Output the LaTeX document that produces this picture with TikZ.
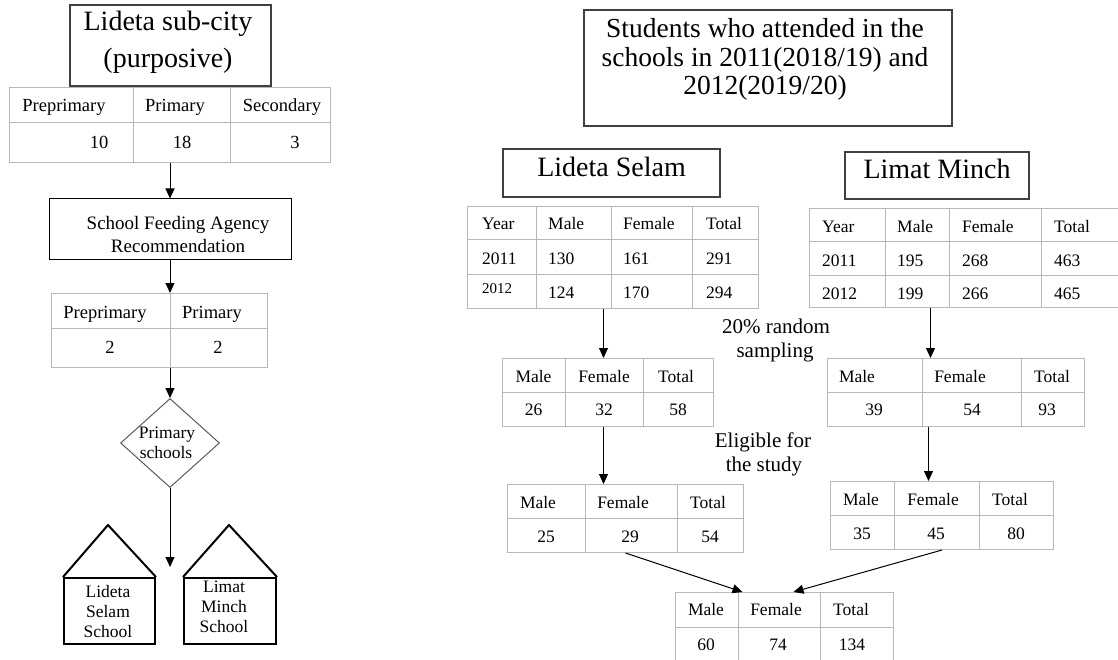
\documentclass[tikz,border=0pt]{standalone}
\usepackage{fontspec}
\setmainfont{Liberation Serif}
\usetikzlibrary{arrows.meta,shapes.geometric,calc}
\definecolor{gridgray}{HTML}{B8B8B8}
\definecolor{boxgray}{HTML}{404040}
\definecolor{diagray}{HTML}{5A5A5A}
\begin{document}
\begin{tikzpicture}[x=1pt,y=-1pt,
  tbl/.style={draw=gridgray,line width=1pt,inner sep=0pt,anchor=north west},
  gridln/.style={draw=gridgray,line width=1pt},
  celltxt/.style={font=\fontsize{17.5}{20}\selectfont,inner sep=0pt,anchor=base},
  lcelltxt/.style={celltxt,anchor=base west},
  smallcell/.style={font=\fontsize{15}{18}\selectfont,inner sep=0pt,anchor=base west},
  bigcell/.style={font=\fontsize{18.5}{21}\selectfont,inner sep=0pt,anchor=base},
  titlebox/.style={draw=boxgray,line width=1.1pt,inner sep=0pt},
  bigtxt/.style={font=\fontsize{28}{36}\selectfont,inner sep=0pt,anchor=base},
  midtxt/.style={font=\fontsize{27.5}{30}\selectfont,inner sep=0pt,anchor=base},
  sfatxt/.style={font=\fontsize{19}{23}\selectfont,inner sep=0pt,anchor=base},
  lbl/.style={font=\fontsize{21}{24}\selectfont,inner sep=0pt,anchor=base},
  arr/.style={draw=black,line width=1pt,-{Triangle[length=10pt,width=9pt]}},
  house/.style={draw=black,line width=2pt,inner sep=0pt},
  housetxt/.style={font=\fontsize{17.5}{20}\selectfont,inner sep=0pt,anchor=base},
]
\useasboundingbox (0,0) rectangle (1118,660);

% ---------------- left column ----------------
\node[titlebox,minimum width=201,minimum height=81] (lsc) at (170.5,45.5) {};
\node[bigtxt] (lsc1) at (168,31) {Lideta sub-city};
\node[bigtxt] (lsc2) at (168,68) {(purposive)};

\node[tbl,minimum width=321,minimum height=75] (t1) at (9,87) {};
\draw[gridln] (133,87) -- (133,162) (230,87) -- (230,162) (9,123) -- (330,123);
\node[bigcell] (t1a) at (64,112) {Preprimary};
\node[bigcell] (t1b) at (175,112) {Primary};
\node[bigcell] (t1c) at (282,112) {Secondary};
\node[bigcell] (t1d) at (99,149) {10};
\node[bigcell] (t1e) at (182,149) {18};
\node[bigcell] (t1f) at (295,149) {3};

\node[draw=black,line width=1pt,inner sep=0pt,minimum width=242,minimum height=60] (sfa) at (170,229) {};
\node[sfatxt] (sfa1) at (178,230) {School Feeding Agency};
\node[sfatxt] (sfa2) at (178,253) {Recommendation};

\node[tbl,minimum width=216,minimum height=74] (t2) at (51,293) {};
\draw[gridln] (170,293) -- (170,367) (51,328) -- (267,328);
\node[bigcell] (t2a) at (105,318) {Preprimary};
\node[bigcell] (t2b) at (212,318) {Primary};
\node[bigcell] (t2c) at (110,353) {2};
\node[bigcell] (t2d) at (218,353) {2};

\node[draw=diagray,line width=1pt,diamond,inner sep=0pt,minimum width=99,minimum height=89] (dia) at (170,443) {};
\node[housetxt] (dia1) at (167,438) {Primary};
\node[housetxt] (dia2) at (166,458) {schools};
\coordinate (dend) at (170,567);

\node[house,minimum width=91,minimum height=66,anchor=north west] (h1) at (63,577) {};
\coordinate (h1top) at (108,525);
\draw[house,line join=miter] (h1.north west) -- (h1top) -- (h1.north east);
\node[housetxt] (h1a) at (108,597) {Lideta};
\node[housetxt] (h1b) at (108,617) {Selam};
\node[housetxt] (h1c) at (108,637) {School};

\node[house,minimum width=92,minimum height=66,anchor=north west] (h2) at (183,577) {};
\coordinate (h2top) at (229,525);
\draw[house,line join=miter] (h2.north west) -- (h2top) -- (h2.north east);
\node[housetxt] (h2a) at (224,592) {Limat};
\node[housetxt] (h2b) at (224,612) {Minch};
\node[housetxt] (h2c) at (224,632) {School};

\draw[arr] (t1.south) -- (t1.south |- sfa.north);
\draw[arr] (sfa.south) -- (sfa.south |- t2.north);
\draw[arr] (t2.south -| dia.north) -- (dia.north);
\draw[arr] (dia.south) -- (dend);

% ---------------- right side ----------------
\node[titlebox,minimum width=368,minimum height=116] (stu) at (768,68) {};
\node[midtxt] (stu1) at (765,38) {Students who attended in the};
\node[midtxt] (stu2) at (765,67) {schools in 2011(2018/19) and};
\node[midtxt] (stu3) at (765,95) {2012(2019/20)};

\node[titlebox,minimum width=217,minimum height=48] (lsb) at (611.5,173) {};
\node[bigtxt] (lsbt) at (611.5,177) {Lideta Selam};
\node[titlebox,minimum width=184,minimum height=47] (lmb) at (937,175.5) {};
\node[bigtxt] (lmbt) at (937,179) {Limat Minch};

% Lideta Selam year table
\node[tbl,minimum width=291,minimum height=102] (tls) at (467,206) {};
\draw[gridln] (536,206) -- (536,308) (611,206) -- (611,308) (692,206) -- (692,308)
  (467,240) -- (758,240) (467,274) -- (758,274);
\node[lcelltxt] (ls11) at (482,230) {Year};
\node[lcelltxt] (ls12) at (548,230) {Male};
\node[lcelltxt] (ls13) at (623,230) {Female};
\node[lcelltxt] (ls14) at (706,230) {Total};
\node[lcelltxt] (ls21) at (482,264) {2011};
\node[lcelltxt] (ls22) at (548,264) {130};
\node[lcelltxt] (ls23) at (623,264) {161};
\node[lcelltxt] (ls24) at (706,264) {291};
\node[smallcell] (ls31) at (482,293) {2012};
\node[lcelltxt] (ls32) at (548,298) {124};
\node[lcelltxt] (ls33) at (623,298) {170};
\node[lcelltxt] (ls34) at (706,298) {294};

% Limat Minch year table
\node[tbl,minimum width=320,minimum height=99] (tlm) at (809,208) {};
\draw[gridln] (885,208) -- (885,307) (949,208) -- (949,307) (1041,208) -- (1041,307)
  (809,242) -- (1129,242) (809,275) -- (1129,275);
\node[lcelltxt] (lm11) at (822,233) {Year};
\node[lcelltxt] (lm12) at (897,233) {Male};
\node[lcelltxt] (lm13) at (962,233) {Female};
\node[lcelltxt] (lm14) at (1054,233) {Total};
\node[lcelltxt] (lm21) at (822,266) {2011};
\node[lcelltxt] (lm22) at (897,266) {195};
\node[lcelltxt] (lm23) at (962,266) {268};
\node[lcelltxt] (lm24) at (1054,266) {463};
\node[lcelltxt] (lm31) at (822,299) {2012};
\node[lcelltxt] (lm32) at (897,299) {199};
\node[lcelltxt] (lm33) at (962,299) {266};
\node[lcelltxt] (lm34) at (1054,299) {465};

% sample tables
\node[tbl,minimum width=211,minimum height=68] (t3) at (502,358) {};
\draw[gridln] (565,358) -- (565,426) (643,358) -- (643,426) (502,392) -- (713,392);
\node[celltxt] (t3a) at (533.5,382) {Male};
\node[celltxt] (t3b) at (604,382) {Female};
\node[celltxt] (t3c) at (676,382) {Total};
\node[celltxt] (t3d) at (533.5,415) {26};
\node[celltxt] (t3e) at (604,415) {32};
\node[celltxt] (t3f) at (678,415) {58};

\node[tbl,minimum width=257,minimum height=68] (t4) at (827,358) {};
\draw[gridln] (922,358) -- (922,426) (1021,358) -- (1021,426) (827,392) -- (1084,392);
\node[celltxt] (t4a) at (857,382) {Male};
\node[celltxt] (t4b) at (960,382) {Female};
\node[celltxt] (t4c) at (1052,382) {Total};
\node[celltxt] (t4d) at (874,415) {39};
\node[celltxt] (t4e) at (972,415) {54};
\node[celltxt] (t4f) at (1047,415) {93};

\node[tbl,minimum width=236,minimum height=68] (t5) at (507,484) {};
\draw[gridln] (585,484) -- (585,552) (677,484) -- (677,552) (507,518) -- (743,518);
\node[celltxt] (t5a) at (538,508) {Male};
\node[celltxt] (t5b) at (623,508) {Female};
\node[celltxt] (t5c) at (708,508) {Total};
\node[celltxt] (t5d) at (546,542) {25};
\node[celltxt] (t5e) at (630,542) {29};
\node[celltxt] (t5f) at (710,542) {54};

\node[tbl,minimum width=223,minimum height=68] (t6) at (830,481) {};
\draw[gridln] (894,481) -- (894,549) (979,481) -- (979,549) (830,515) -- (1053,515);
\node[celltxt] (t6a) at (861,505) {Male};
\node[celltxt] (t6b) at (933,505) {Female};
\node[celltxt] (t6c) at (1010,505) {Total};
\node[celltxt] (t6d) at (862,539) {35};
\node[celltxt] (t6e) at (936,539) {45};
\node[celltxt] (t6f) at (1016,539) {80};

\node[tbl,minimum width=218,minimum height=72] (t7) at (675,592) {};
\draw[gridln] (738,592) -- (738,664) (820,592) -- (820,664) (675,627) -- (893,627);
\node[celltxt] (t7a) at (706,615) {Male};
\node[celltxt] (t7b) at (776,615) {Female};
\node[celltxt] (t7c) at (851,615) {Total};
\node[celltxt] (t7d) at (706,650) {60};
\node[celltxt] (t7e) at (778,650) {74};
\node[celltxt] (t7f) at (852,650) {134};

% labels
\node[lbl] (l1) at (776,333) {20\% random};
\node[lbl] (l2) at (775,357) {sampling};
\node[lbl] (l3) at (763,447) {Eligible for};
\node[lbl] (l4) at (764,471) {the study};

% arrows
\draw[arr] ([xshift=-9.5pt]tls.south) -- ([xshift=-9.5pt]tls.south |- t3.north);
\draw[arr] ([xshift=-39pt]tlm.south) -- ([xshift=-39pt]tlm.south |- t4.north);
\draw[arr] ([xshift=-4.5pt]t3.south) -- ([xshift=-4.5pt]t3.south |- t5.north);
\draw[arr] ([xshift=-27.5pt]t4.south) -- ([xshift=-27.5pt]t4.south |- t6.north);
\draw[arr] (t5.south) -- ([xshift=-42pt]t7.north);
\draw[arr] (t6.south) -- ([xshift=9pt]t7.north);
\end{tikzpicture}
\end{document}
